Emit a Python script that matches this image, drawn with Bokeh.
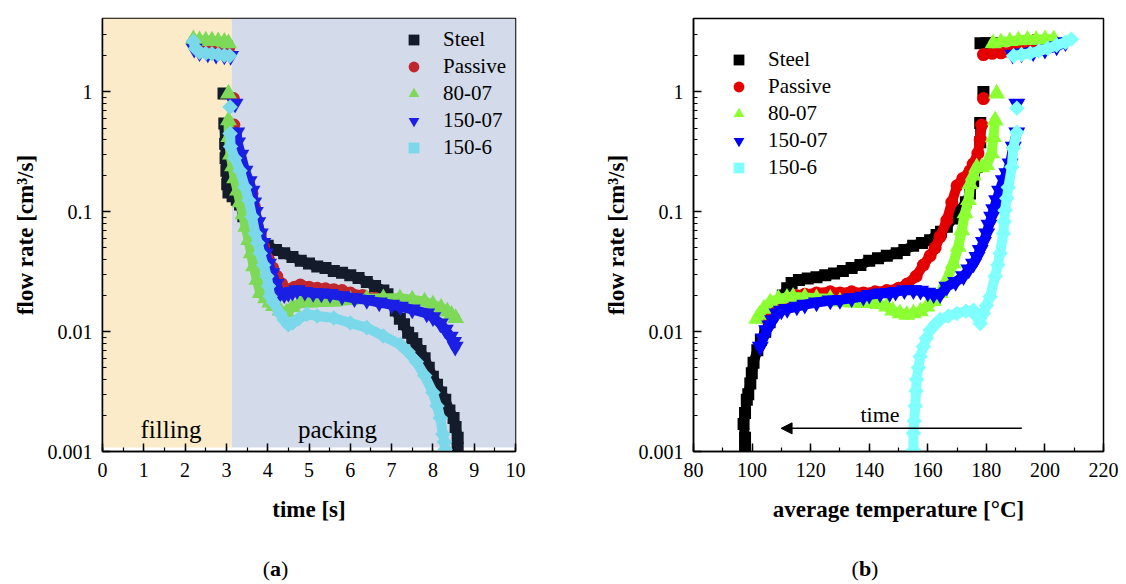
import math
from bokeh.plotting import figure
from bokeh.layouts import row, column
from bokeh.models import (Range1d, FixedTicker, SingleIntervalTicker, Legend,
                          LegendItem, Label, Arrow, NormalHead)
from bokeh.embed import file_html
from bokeh.resources import INLINE

# ---------------- data ----------------
SERIES = ["Steel", "Passive", "80-07", "150-07", "150-6"]

# panel (a): time [s] vs flow rate [cm3/s]
A_T_STEEL = [2.25, 2.45, 2.65, 2.85, 3.0, 2.93, 2.95, 2.97, 2.98, 3.0, 3.02, 3.05, 3.15, 3.25, 3.33, 3.41, 3.5, 3.6, 3.7, 3.82,
             4.0, 4.2, 4.4, 4.6, 4.8, 5.0, 5.2, 5.4, 5.6, 5.8, 6.0, 6.2, 6.4, 6.6, 6.8, 6.9, 7.0, 7.1, 7.2, 7.3,
             7.4, 7.5, 7.6, 7.7, 7.8, 7.9, 8.0, 8.1, 8.2, 8.3, 8.4, 8.5, 8.55, 8.6, 8.6]
A_Q_STEEL = [2.6, 2.55, 2.5, 2.45, 2.4, 0.97, 0.545, 0.37, 0.28, 0.22, 0.17, 0.145, 0.135, 0.126, 0.115, 0.092, 0.078, 0.07, 0.064, 0.058,
             0.052, 0.048, 0.045, 0.042, 0.039, 0.037, 0.035, 0.034, 0.032, 0.031, 0.0295, 0.028, 0.026, 0.024, 0.022, 0.0205, 0.0175, 0.015, 0.0128, 0.0115,
             0.0098, 0.0088, 0.0079, 0.0069, 0.006, 0.005, 0.0042, 0.0036, 0.0031, 0.0027, 0.0022, 0.0019, 0.0016, 0.0013, 0.00107]

A_T_PASSIVE = [2.3, 2.55, 2.8, 3.05, 3.17, 3.18, 3.21, 3.25, 3.35, 3.45, 3.54, 3.62, 3.68, 3.74, 3.82, 3.9, 4.02, 4.12,
               4.22, 4.34, 4.46, 4.54, 4.65, 4.79, 5.0, 5.2, 5.4, 5.6, 5.8, 6.0, 6.3, 6.6, 6.9]
A_Q_PASSIVE = [2.5, 2.45, 2.4, 2.3, 0.88, 0.53, 0.40, 0.30, 0.24, 0.20, 0.17, 0.142, 0.11, 0.085, 0.066, 0.051, 0.040, 0.034,
               0.029, 0.025, 0.0223, 0.0225, 0.0235, 0.0245, 0.0235, 0.023, 0.0228, 0.0224, 0.022, 0.021, 0.020, 0.019, 0.018]

A_T_8007 = [2.2, 2.35, 2.5, 2.65, 2.8, 2.95, 3.05, 3.05, 3.05, 3.06, 3.1, 3.15, 3.2, 3.27, 3.33, 3.4, 3.47, 3.54, 3.6, 3.66,
            3.74, 3.82, 3.95, 4.05, 4.14, 4.3, 4.46, 4.6, 4.79, 5.0, 5.3, 5.6, 6.0, 6.4, 6.8, 7.2, 7.5, 7.8, 8.0, 8.2,
            8.35, 8.45, 8.55, 3.41]
A_Q_8007 = [2.75, 2.7, 2.68, 2.68, 2.65, 2.62, 2.55, 0.97, 0.58, 0.42, 0.3, 0.24, 0.19, 0.15, 0.12, 0.095, 0.075, 0.058, 0.045, 0.035,
            0.027, 0.021, 0.019, 0.0175, 0.0163, 0.015, 0.0145, 0.016, 0.0173, 0.0175, 0.0177, 0.0178, 0.0184, 0.0188, 0.019, 0.019, 0.0185, 0.0178, 0.0168, 0.0158,
            0.0147, 0.0138, 0.013, 0.237]

A_T_15007 = [2.22, 2.35, 2.55, 2.75, 2.95, 3.1, 3.21, 3.25, 3.27, 3.35, 3.45, 3.55, 3.62, 3.66, 3.7, 3.76, 3.82, 3.88, 3.94,
             4.02, 4.1, 4.2, 4.3, 4.4, 4.5, 4.6, 4.71, 4.9, 5.1, 5.3, 5.51, 5.8, 6.1, 6.4, 6.7, 7.0, 7.21, 7.5, 7.85,
             8.0, 8.18, 8.3, 8.42, 8.5, 8.54]
A_Q_15007 = [2.3, 2.15, 2.1, 2.05, 2.02, 2.0, 0.8, 0.46, 0.38, 0.3, 0.22, 0.18, 0.15, 0.12, 0.1, 0.082, 0.066, 0.055, 0.045,
             0.037, 0.0307, 0.025, 0.021, 0.0205, 0.021, 0.0215, 0.0222, 0.0215, 0.021, 0.0208, 0.0206, 0.0198, 0.019, 0.0184, 0.0175, 0.0168, 0.0162, 0.0153, 0.0142,
             0.0132, 0.0117, 0.0104, 0.0091, 0.0082, 0.0075]

A_T_1506 = [2.2, 2.25, 2.35, 2.5, 2.65, 2.8, 2.95, 3.08, 3.09, 3.09, 3.1, 3.2, 3.33, 3.45, 3.54, 3.62, 3.7, 3.76, 3.82, 3.9,
            3.98, 4.02, 4.06, 4.14, 4.3, 4.4, 4.5, 4.6, 4.75, 4.95, 5.2, 5.6, 6.0, 6.4, 6.8, 7.21, 7.4, 7.6, 7.8, 8.0,
            8.1, 8.18, 8.24, 8.28, 8.3]
A_Q_1506 = [2.65, 2.3, 2.15, 2.1, 2.08, 2.05, 2.02, 2.0, 0.75, 0.45, 0.35, 0.28, 0.22, 0.16, 0.125, 0.091, 0.066, 0.055, 0.045, 0.036,
            0.029, 0.024, 0.0197, 0.0175, 0.0142, 0.0125, 0.0114, 0.0118, 0.0128, 0.014, 0.0135, 0.013, 0.0118, 0.0108, 0.0092, 0.0078, 0.0068, 0.0056, 0.0043, 0.0031,
            0.0024, 0.0019, 0.0014, 0.0012, 0.00104]

# panel (b): average temperature [degC] vs flow rate [cm3/s]
B_T_STEEL = [178, 180, 182, 183.5, 179.0, 177.9, 177.9, 176.7, 175.5, 174.4, 173, 171, 168.5, 166.5, 164.5, 163, 160.8,
             158, 155, 152, 149.4, 146, 143, 140, 137, 134, 131, 128, 125, 122, 119, 116, 113.5, 112, 110.5, 109, 107.5,
             106, 104.5, 103, 101.8, 100.5, 99.9, 99.4, 98.7, 98.2, 97.6, 97.1, 97.6, 97.6]
B_Q_STEEL = [2.55, 2.55, 2.55, 2.5, 1.0, 0.55, 0.38, 0.237, 0.18, 0.142, 0.12, 0.103, 0.088, 0.075, 0.068, 0.064, 0.058,
             0.055, 0.052, 0.048, 0.045, 0.043, 0.041, 0.039, 0.036, 0.034, 0.032, 0.0305, 0.0295, 0.0285, 0.0278, 0.027, 0.0255, 0.023, 0.02, 0.017, 0.0145,
             0.012, 0.01, 0.0085, 0.007, 0.0055, 0.0045, 0.0037, 0.003, 0.0027, 0.0021, 0.0017, 0.0013, 0.0011]

B_T_PASSIVE = [179, 182, 185, 189, 193, 196.6, 179, 178.4, 177.9, 177.1, 175.5, 174.4, 172, 170, 168.2, 166.5, 164.2, 162.5,
               160.8, 158.5, 156, 153, 150, 146, 142, 138, 134, 130, 126.7, 122, 118, 115, 112, 109, 106, 104]
B_Q_PASSIVE = [2.05, 2.1, 2.12, 2.15, 2.3, 2.7, 0.88, 0.53, 0.40, 0.307, 0.25, 0.22, 0.19, 0.165, 0.12, 0.085, 0.062, 0.05,
               0.043, 0.036, 0.029, 0.025, 0.023, 0.022, 0.0215, 0.021, 0.0215, 0.021, 0.0215, 0.021, 0.0205, 0.02, 0.019, 0.018, 0.016, 0.013]

B_T_8007 = [182.3, 185, 188, 191, 194, 197, 200, 203, 183.5, 183.0, 182.4, 181.8, 180.1, 178.5, 176.7, 175.5, 174.4, 173.9,
            172.7, 171.6, 170.4, 168.7, 166.5, 164.2, 162, 159.7, 157.5, 155.1, 152.8, 150.5, 148, 146, 143, 141.4, 138,
            134, 130, 126.7, 122, 118, 114, 111.9, 109, 106.2, 104, 102.5, 101.6]
B_Q_8007 = [2.55, 2.6, 2.65, 2.7, 2.72, 2.72, 2.75, 2.75, 0.97, 0.58, 0.42, 0.307, 0.245, 0.235, 0.235, 0.2, 0.17, 0.125,
            0.097, 0.07, 0.051, 0.037, 0.027, 0.021, 0.018, 0.0162, 0.0148, 0.0142, 0.0138, 0.0142, 0.015, 0.0162, 0.017, 0.0173, 0.0173,
            0.0175, 0.0178, 0.0188, 0.019, 0.0193, 0.0195, 0.0192, 0.0188, 0.0176, 0.0155, 0.0138, 0.0128]

B_T_15007 = [189, 192, 196, 200, 204, 207, 190.4, 190.4, 189.2, 188.1, 187, 185.8, 184.5, 183.5, 182.5, 181.8, 180.9, 180.1,
             179, 177.9, 176.8, 175.6, 174, 172.2, 169.5, 166.5, 164.2, 162, 160, 157.5, 155.1, 152, 149, 147, 143.7, 140,
             138, 134, 130, 126.7, 122, 118, 115.3, 112, 110, 108.5, 107, 106, 105, 103.8, 102.8]
B_Q_15007 = [2.05, 2.1, 2.15, 2.25, 2.4, 2.6, 0.8, 0.46, 0.35, 0.253, 0.21, 0.184, 0.15, 0.125, 0.105, 0.091, 0.078, 0.066,
             0.056, 0.048, 0.042, 0.037, 0.033, 0.029, 0.026, 0.0237, 0.0205, 0.0205, 0.0212, 0.022, 0.0222, 0.0222, 0.0215, 0.021, 0.0208, 0.0203,
             0.0196, 0.019, 0.0184, 0.0182, 0.0175, 0.0168, 0.0162, 0.0155, 0.015, 0.0142, 0.0125, 0.0113, 0.0103, 0.0088, 0.0075]

B_T_1506 = [189.3, 192, 195, 198, 201, 204, 207, 209, 190.4, 190.4, 189.2, 188.7, 187.5, 187, 186.4, 186.1, 185.8, 184.7,
            183.9, 183, 181.3, 180, 179, 177.9, 176.5, 175.6, 173, 169.9, 167, 164.2, 162.5, 160.8, 159.5, 158.5, 157.4,
            156.8, 156.2, 156, 155.7, 155.4, 155.1, 155.1]
B_Q_1506 = [2.0, 2.05, 2.1, 2.2, 2.3, 2.45, 2.6, 2.75, 0.73, 0.46, 0.34, 0.237, 0.16, 0.13, 0.103, 0.083, 0.066, 0.045,
            0.036, 0.029, 0.0196, 0.0165, 0.0142, 0.0117, 0.0135, 0.0151, 0.0148, 0.0142, 0.0135, 0.0126, 0.0115, 0.0103, 0.0088, 0.0075, 0.0062,
            0.005, 0.004, 0.0032, 0.0024, 0.0018, 0.00142, 0.00103]

A_DATA = [(A_T_STEEL, A_Q_STEEL), (A_T_PASSIVE, A_Q_PASSIVE), (A_T_8007, A_Q_8007),
          (A_T_15007, A_Q_15007), (A_T_1506, A_Q_1506)]
B_DATA = [(B_T_STEEL, B_Q_STEEL), (B_T_PASSIVE, B_Q_PASSIVE), (B_T_8007, B_Q_8007),
          (B_T_15007, B_Q_15007), (B_T_1506, B_Q_1506)]

PHASE_EDGES = [0, 3.13, 10]
PHASE_NAMES = ["filling", "packing"]
Y_TICKS = [0.001, 0.01, 0.1, 1]
Y_TICK_LABELS = ["0.001", "0.01", "0.1", "1"]

# ---------------- style ----------------
FONT = "'Liberation Serif', 'Times New Roman', serif"
A_COLORS = ["#141b2b", "#c0262d", "#7dd957", "#1a1fe3", "#7ad8ea"]
B_COLORS = ["#000000", "#e50000", "#8cff33", "#0000ff", "#80ffff"]
PHASE_COLORS = ["#fbebc8", "#d3dbea"]
MARKERS = [("square", 12, 0.0), ("circle", 13, 0.0), ("triangle", 17, 0.0),
           ("inverted_triangle", 17, 0.0), ("square", 11, math.pi / 4)]
FRAME_H = 433
Y_MIN, Y_MAX = 0.001, 4.1


def make_fig(xr, frame_w, left, right, x_interval, x_label):
    p = figure(frame_width=frame_w, frame_height=FRAME_H, x_range=Range1d(*xr),
               y_range=Range1d(Y_MIN, Y_MAX), y_axis_type="log",
               output_backend="svg", toolbar_location=None,
               min_border_left=left, min_border_right=right,
               min_border_top=18, min_border_bottom=80)
    p.grid.visible = False
    p.outline_line_color = "black"
    p.outline_line_width = 1.5
    p.outline_line_alpha = 1.0
    p.border_fill_color = "white"
    p.background_fill_color = "white"
    p.xaxis.ticker = SingleIntervalTicker(interval=x_interval, num_minor_ticks=2)
    minor = [k * d for d in (0.001, 0.01, 0.1) for k in range(2, 10)] + [2, 3]
    p.yaxis.ticker = FixedTicker(ticks=Y_TICKS, minor_ticks=minor)
    p.yaxis.major_label_overrides = dict(zip(Y_TICKS, Y_TICK_LABELS))
    for ax in (p.xaxis[0], p.yaxis[0]):
        ax.major_tick_in = 8
        ax.major_tick_out = 0
        ax.minor_tick_in = 4
        ax.minor_tick_out = 0
        ax.axis_line_width = 1.5
        ax.axis_line_color = "black"
        ax.major_tick_line_width = 1.5
        ax.major_tick_line_color = "black"
        ax.minor_tick_line_width = 1.2
        ax.minor_tick_line_color = "black"
        ax.major_label_text_font = FONT
        ax.major_label_text_font_size = "20px"
        ax.major_label_text_color = "black"
        ax.axis_label_text_font = FONT
        ax.axis_label_text_font_style = "bold"
        ax.axis_label_text_font_size = "23px"
        ax.axis_label_text_color = "black"
    p.xaxis.major_label_standoff = 11
    p.xaxis.axis_label_standoff = 17
    p.yaxis.major_label_standoff = 10
    p.yaxis.axis_label_standoff = 7
    p.xaxis.axis_label = x_label
    p.yaxis.axis_label = "flow rate [cm³/s]"
    return p


def segments(xs, ys, xpx, ypx, thr=22):
    runs, cur = [], [0]
    for i in range(1, len(xs)):
        d = math.hypot((xs[i] - xs[i - 1]) * xpx,
                       (math.log10(ys[i]) - math.log10(ys[i - 1])) * ypx)
        if d <= thr:
            cur.append(i)
        else:
            runs.append(cur)
            cur = [i]
    runs.append(cur)
    runs = [r for r in runs if len(r) > 1]
    return [[xs[i] for i in r] for r in runs], [[ys[i] for i in r] for r in runs]


def draw_series(p, data, colors, xpx):
    ypx = FRAME_H / (math.log10(Y_MAX) - math.log10(Y_MIN))
    rends = []
    for (xs, ys), c, (mk, sz, ang) in zip(data, colors, MARKERS):
        sx, sy = segments(xs, ys, xpx, ypx)
        if sx:
            p.multi_line(sx, sy, line_width=10, line_color=c, line_join="round", line_cap="round")
        r = p.scatter(xs, ys, marker=mk, size=sz, angle=ang, fill_color=c, line_color=None)
        rends.append(r)
    return rends


def add_legend(p, rends, loc):
    items = [LegendItem(label=n, renderers=[r]) for n, r in zip(SERIES, rends)]
    leg = Legend(items=items, location=loc, padding=0, spacing=0, margin=0,
                 glyph_width=27, glyph_height=27, label_height=27, label_standoff=16,
                 border_line_color=None, background_fill_alpha=0,
                 label_text_font=FONT, label_text_font_size="21px", label_text_color="black")
    p.add_layout(leg)


# ---------------- panel (a) ----------------
FW_A = 413
pa = make_fig((0, 10), FW_A, 102, 45, 1, "time [s]")
pa.quad(left=PHASE_EDGES[:-1], right=PHASE_EDGES[1:], bottom=0.00108, top=Y_MAX,
        fill_color=PHASE_COLORS, line_color=None)
for name, x0 in zip(PHASE_NAMES, [1.66, 5.69]):
    pa.add_layout(Label(x=x0, y=0.00152, text=name, text_align="center", text_baseline="alphabetic",
                        text_font=FONT, text_font_size="25px", text_color="black"))
ra = draw_series(pa, A_DATA, A_COLORS, FW_A / 10)
add_legend(pa, ra, (298, 290))

# ---------------- panel (b) ----------------
FW_B = 410
pb = make_fig((80, 220), FW_B, 133, 20, 20, "average temperature [°C]")
rb = draw_series(pb, B_DATA, B_COLORS, FW_B / 140)
pb.add_layout(Arrow(end=NormalHead(size=11, fill_color="black", line_color="black"),
                    x_start=192.1, y_start=0.00156, x_end=109.9, y_end=0.00156,
                    line_width=1.5, line_color="black"))
pb.add_layout(Label(x=143.7, y=0.00202, text="time", text_align="center", text_baseline="alphabetic",
                    text_font=FONT, text_font_size="22px", text_color="black"))
add_legend(pb, rb, (32, 270))

# ---------------- captions (a), (b) ----------------
CAP_W, CAP_H = 1123, 50
cap = figure(width=CAP_W, height=CAP_H, x_range=Range1d(0, CAP_W), y_range=Range1d(0, CAP_H),
             output_backend="svg", toolbar_location=None, min_border=0,
             x_axis_location=None, y_axis_location=None)
cap.grid.visible = False
cap.outline_line_color = None
cap.border_fill_color = "white"
cap.background_fill_color = "white"
for cx, letter, half in [(275, "a", 5.5), (864.5, "b", 6.1)]:
    kw = dict(y=13, x_units="screen", y_units="screen", text_font=FONT,
              text_font_size="22px", text_color="black", text_baseline="middle")
    cap.add_layout(Label(x=cx - half, text="(", text_align="right", **kw))
    cap.add_layout(Label(x=cx, text=letter, text_align="center", text_font_style="bold", **kw))
    cap.add_layout(Label(x=cx + half, text=")", text_align="left", **kw))

layout = column(row(pa, pb), cap)
open("out.html", "w").write(file_html(layout, INLINE))
